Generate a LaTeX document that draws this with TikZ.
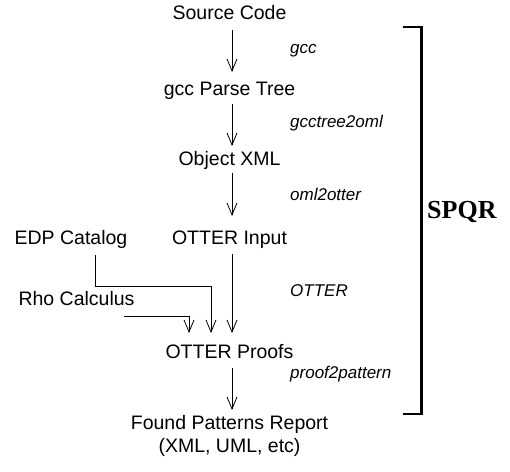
\documentclass[tikz,border=0pt]{standalone}
\usepackage{fontspec}
\setmainfont{Liberation Sans}
\newfontfamily\serifbold{Liberation Serif}
\usetikzlibrary{arrows.meta}
\begin{document}
\begin{tikzpicture}[x=1pt,y=-1pt,
  lbl/.style={inner sep=0pt,anchor=base,font=\fontsize{19.5}{21}\selectfont},
  tool/.style={inner sep=0pt,anchor=base west,font=\fontsize{17}{20}\selectfont\itshape},
  flow/.style={line width=0.8pt,-{Straight Barb[length=12pt,width=10pt,line width=0.8pt]}}]
\useasboundingbox (0,0) rectangle (510,471);
\node[lbl] (src) at (229.5,19.5) {Source Code};
\node[lbl] (gpt) at (229.5,95) {gcc Parse Tree};
\node[lbl] (oxml) at (229.5,165) {Object XML};
\node[lbl] (oin) at (229.5,244) {OTTER Input};
\node[lbl] (edp) at (71,244) {EDP Catalog};
\node[lbl] (rho) at (76.5,305) {Rho Calculus};
\node[lbl] (opr) at (229.5,358) {OTTER Proofs};
\node[lbl] (fpr) at (229.5,429) {Found Patterns Report};
\node[lbl] (fpr2) at (229.5,452) {(XML, UML, etc)};
\node[tool] (t1) at (290,53) {gcc};
\node[tool] (t2) at (290,127) {gcctree2oml};
\node[tool] (t3) at (290,200) {oml2otter};
\node[tool] (t4) at (290,296) {OTTER};
\node[tool] (t5) at (290,378) {proof2pattern};
\coordinate (a1s) at (232,30); \coordinate (a1e) at (232,72);
\coordinate (a2s) at (232,104); \coordinate (a2e) at (232,146);
\coordinate (a3s) at (232,173); \coordinate (a3e) at (232,216);
\coordinate (a4s) at (232,254); \coordinate (a4e) at (232,333);
\coordinate (a5s) at (232,368); \coordinate (a5e) at (232,410);
\draw[flow] (a1s) -- (a1e);
\draw[flow] (a2s) -- (a2e);
\draw[flow] (a3s) -- (a3e);
\draw[flow] (a4s) -- (a4e);
\draw[flow] (a5s) -- (a5e);
\coordinate (e1) at (95.5,255); \coordinate (e2) at (95.5,286);
\coordinate (e3) at (211,286); \coordinate (e4) at (211,333);
\draw[flow] (e1) -- (e2) -- (e3) -- (e4);
\coordinate (r1) at (124,316); \coordinate (r2) at (189,316);
\coordinate (r3) at (189,333);
\draw[flow] (r1) -- (r2) -- (r3);
\coordinate (b1) at (403,27); \coordinate (b2) at (421.5,27);
\coordinate (b3) at (421.5,414); \coordinate (b4) at (403,414);
\draw[line width=2.6pt] (b1) -- (b2) -- (b3) -- (b4);
\node[inner sep=0pt,anchor=base west,font=\serifbold\bfseries\fontsize{26}{30}\selectfont] (spqr) at (427,218) {SPQR};
\end{tikzpicture}
\end{document}
